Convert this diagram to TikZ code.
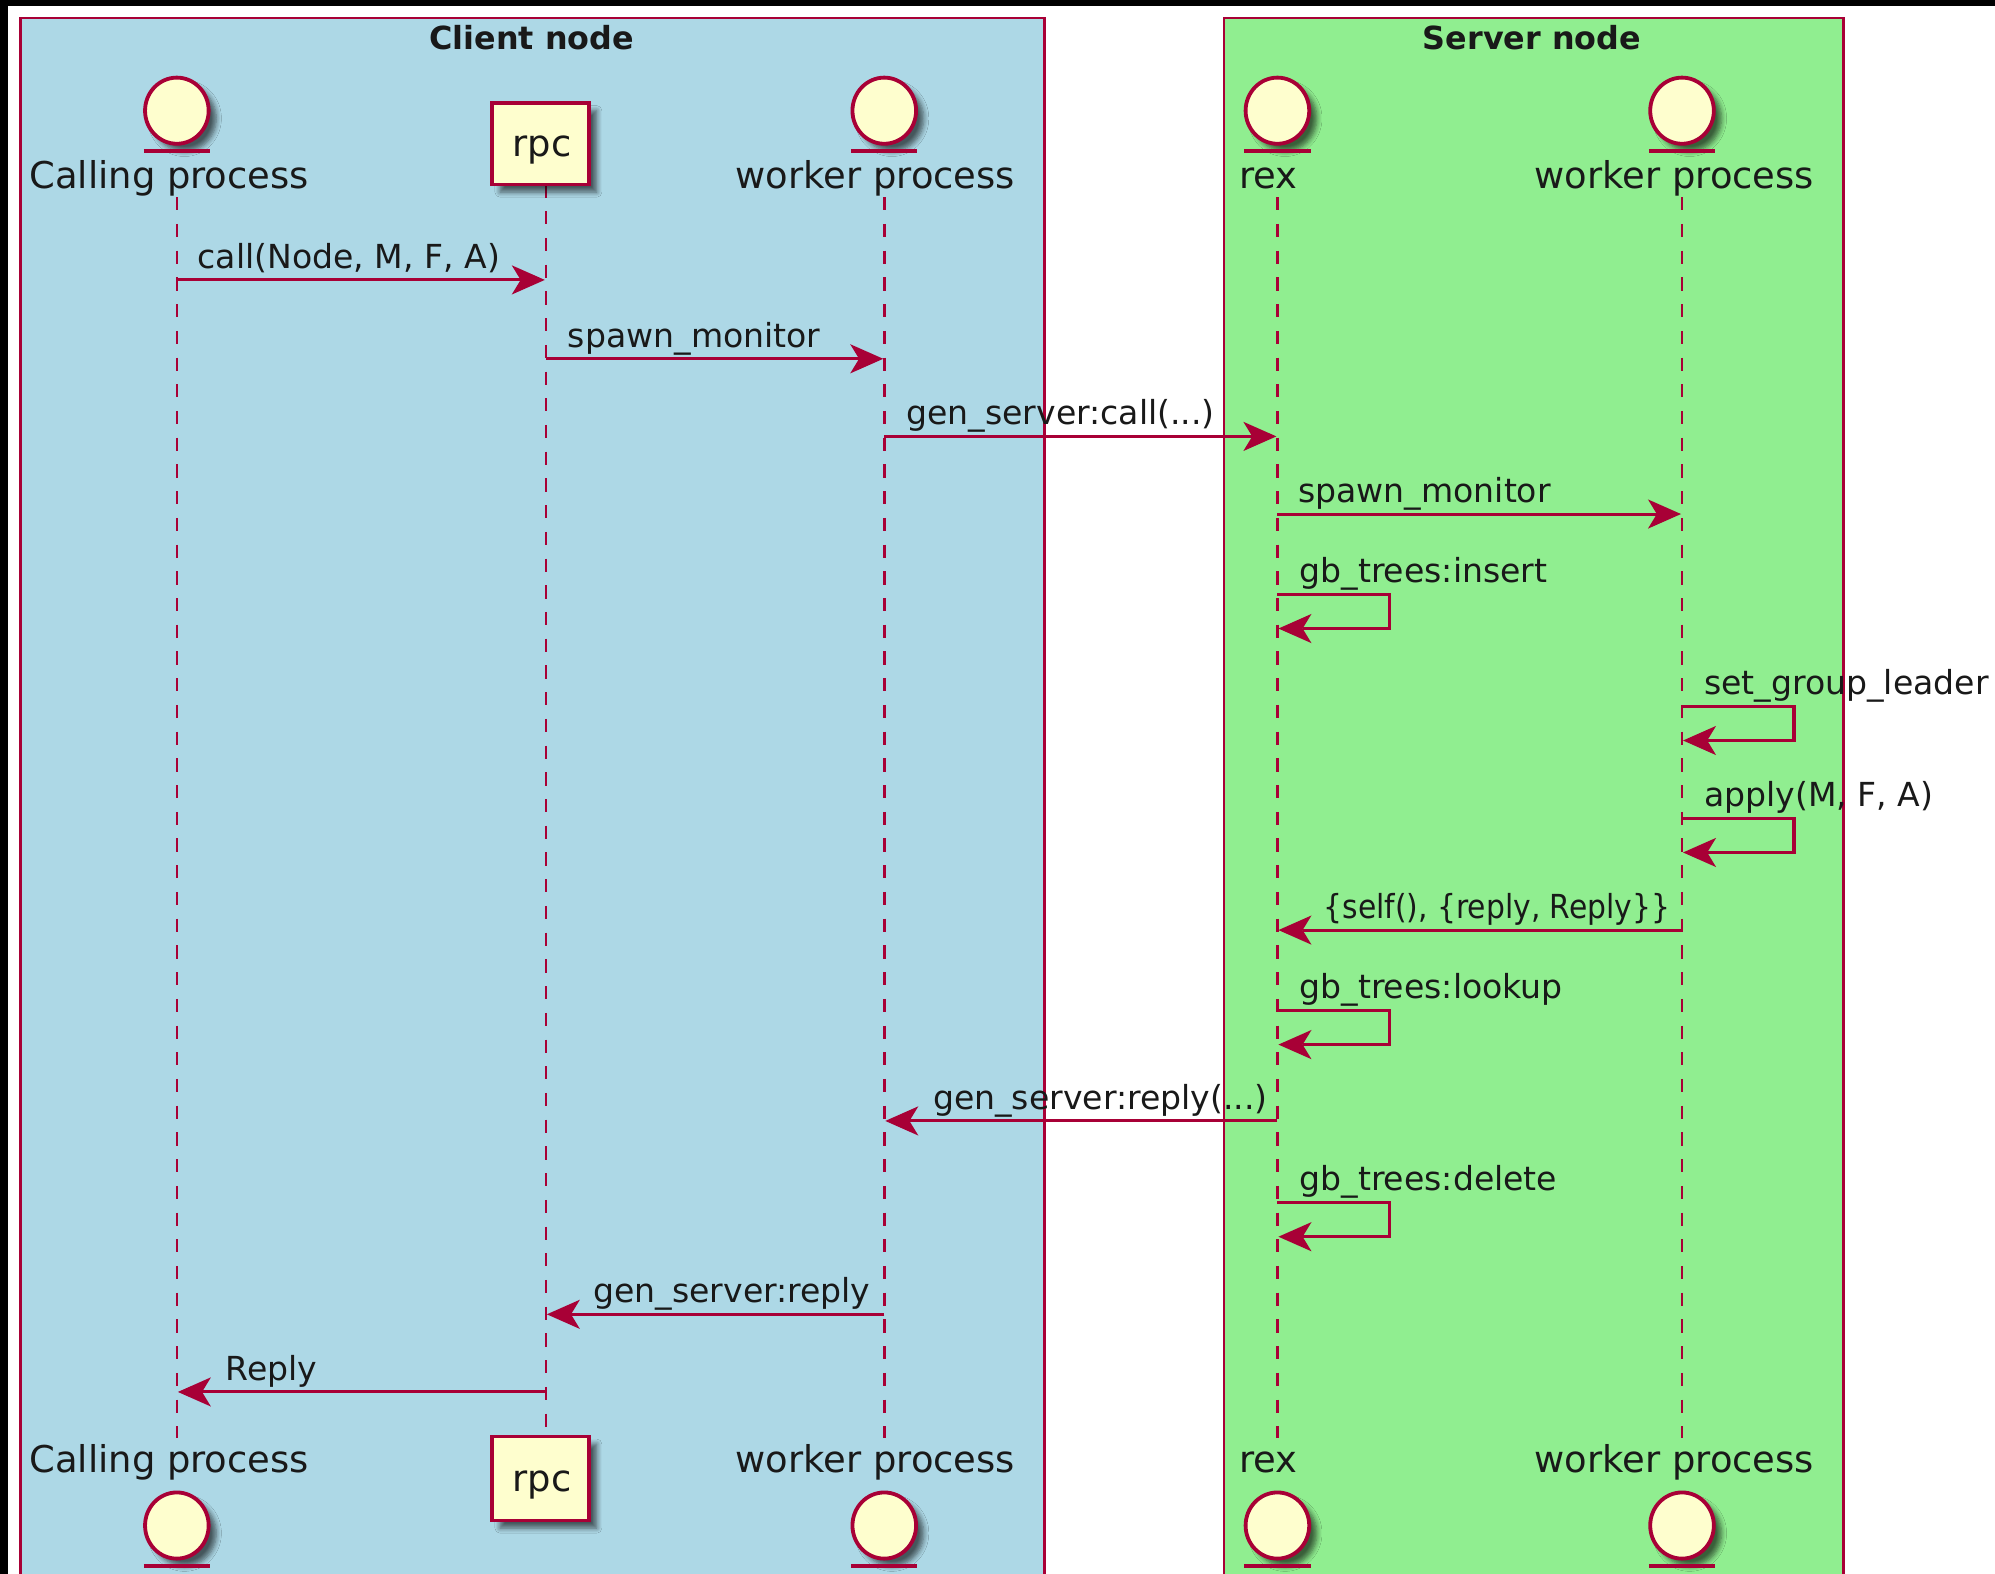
\documentclass[tikz,border=0pt]{standalone}
\usepackage{fontspec}
\setmainfont{DejaVu Sans}
\usetikzlibrary{arrows.meta,positioning,shapes.geometric,shadows,shadows.blur}
\definecolor{umlred}{HTML}{A80036}
\definecolor{umlfill}{HTML}{FEFECE}
\definecolor{clientblue}{HTML}{ADD8E6}
\definecolor{servergreen}{HTML}{90EE90}
\tikzset{
  umlshadow/.style={blur shadow={shadow xshift=3pt,shadow yshift=-3pt,shadow blur radius=2pt,shadow blur steps=6,shadow opacity=60}},
  entity/.style={ellipse,draw=umlred,fill=umlfill,line width=1.5pt,minimum width=25pt,minimum height=26pt,inner sep=0pt,umlshadow},
  rpcbox/.style={rectangle,draw=umlred,fill=umlfill,line width=1.5pt,minimum width=38pt,minimum height=32pt,inner sep=0pt,umlshadow},
  lifename/.style={font=\fontsize{14.5}{16}\selectfont,text=black!90,inner sep=0pt,anchor=base},
  groupname/.style={font=\fontsize{12.5}{14}\selectfont\bfseries,text=black!90,inner sep=0pt,anchor=base},
  groupbox/.style={draw=umlred,line width=1pt},
  lifeline/.style={draw=umlred,line width=1pt,dash pattern=on 5.2pt off 5.3pt},
  underbar/.style={draw=umlred,line width=1.5pt},
  msg/.style={draw=umlred,line width=1.2pt,shorten >=.4pt,-{Stealth[length=13pt,width=11.5pt,inset=3.5pt,line width=0pt]}},
  msgtext/.style={font=\fontsize{13}{15}\selectfont,text=black!90,anchor=base west,inner sep=0pt}
}
\begin{document}
\begin{tikzpicture}[x=.5pt,y=-.5pt]
    \useasboundingbox (0,0) rectangle (1568,1237);
    \clip (0,0) rectangle (1568,1237);
    \fill[white] (0,0) rectangle (1568,1237);
    \fill[black] (0,0) rectangle (1568,5);
    \fill[black] (0,0) rectangle (6,1237);
    % groups
    \draw[groupbox,fill=clientblue] (16,14) rectangle (821,1260);
    \draw[groupbox,fill=servergreen] (962,14) rectangle (1449,1260);
    \node[groupname] (clienttitle) at (418,39) {Client node};
    \node[groupname] (servertitle) at (1204,39) {Server node};
    % participants, top and bottom
    \foreach \name/\x/\tx/\label in {call/139/133/Calling process,work/695/688/worker process,rex/1004/997/rex,serv/1322/1316/worker process} {
      \draw[lifeline] (\x,155) -- (\x,1130);
      \node[lifename] (\name label) at (\tx,148) {\label};
      \node[lifename] (\name botlabel) at (\tx,1157) {\label};
      \node[entity] (\name) at (\x,87) {};
      \node[entity] (\name bot) at (\x,1199) {};
      \draw[underbar] (\name.south) ++(-26,4) -- ++(52,0);
      \draw[underbar] (\name bot.south) ++(-26,4) -- ++(52,0);
    }
    \coordinate (rpcl) at (429,0);
    \draw[lifeline] (rpcl |- 0,145) -- (rpcl |- 0,1130);
    \node[rpcbox] (rpc) at (425,113) {};
    \node[rpcbox,minimum height=33pt] (rpc bot) at (425,1162) {};
    \node[lifename] (rpc label) at (426,123) {rpc};
    \node[lifename] (rpc botlabel) at (426,1172) {rpc};
    % messages
    \foreach \from/\to/\y/\off/\label in {
      call/rpcl/220/16/{call(Node, M, F, A)},
      rpcl/work/282/17/{spawn\_monitor},
      work/rex/343/17/{gen\_server:call(...)},
      rex/serv/404/16/{spawn\_monitor},
      serv/rex/731/-282/{\scalebox{.9}[1]{\{self(), \{reply, Reply\}\}}},
      rex/work/881/-271/{gen\_server:reply(...)},
      work/rpcl/1033/-229/{gen\_server:reply},
      rpcl/call/1094/-252/{Reply}} {
      \draw[msg] (\from |- 0,\y) -- (\to |- 0,\y);
      \node[msgtext] (txt\y) at ([xshift=\off*.5pt,yshift=4.5pt]\from |- 0,\y) {\label};
    }
    % calls to self
    \foreach \who/\y/\label in {
      rex/467/{gb\_trees:insert},
      serv/555/{set\_group\_leader},
      serv/643/{apply(M, F, A)},
      rex/794/{gb\_trees:lookup},
      rex/945/{gb\_trees:delete}} {
      \draw[msg] (\who |- 0,\y) -- ++(88,0) -- ++(0,27) -- (\who |- 0,\y+27);
      \node[msgtext] (txt\y) at ([xshift=8.5pt,yshift=4.5pt]\who |- 0,\y) {\label};
    }
\end{tikzpicture}
\end{document}
